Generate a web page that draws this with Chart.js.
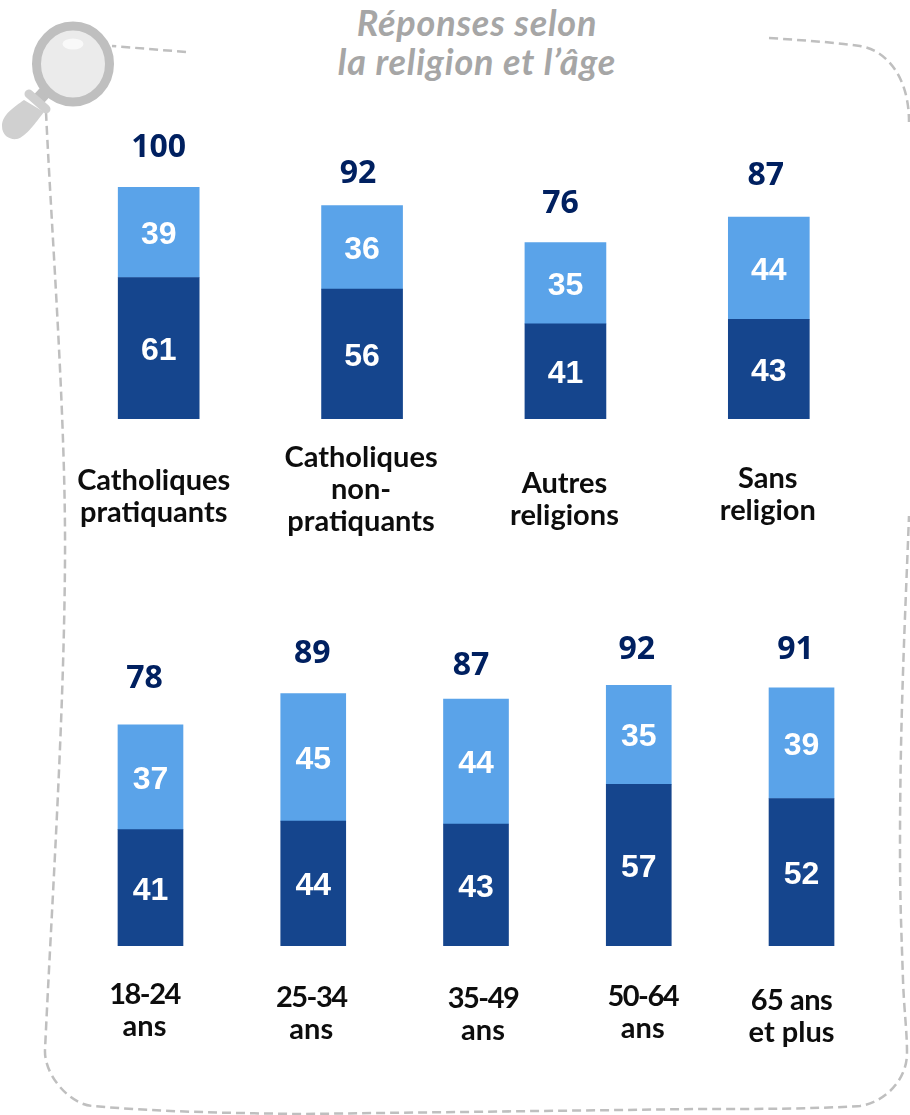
<!DOCTYPE html>
<html lang="fr">
<head>
<meta charset="utf-8">
<title>Réponses selon la religion et l'âge</title>
<script src="https://cdn.jsdelivr.net/npm/chart.js@4"></script>
<style>
body { margin: 0; background: #fff; width: 910px; height: 1115px; overflow: hidden; position: relative; }
canvas, svg { position: absolute; left: 0; }
#titre { position: absolute; left: 0; top: 3px; width: 954px; text-align: center; color: #a6a6a6;
  font: italic bold 36px/39px Lato, sans-serif; letter-spacing: 0.8px; }
</style>
</head>
<body>
<svg width="910" height="1115" style="top:0">
  <g fill="none" stroke="#bfbfbf" stroke-width="2.5" stroke-dasharray="9 5">
    <path d="M186 52 L112 46"/>
    <path d="M46 112 C52 240 66 420 65 560 C64 720 52 900 45 1050 C44 1075 70 1105 93 1106 C160 1112 230 1113 300 1114 L700 1109 C760 1109 810 1109 860 1106 C885 1102 907 1080 907 1053 C907 1030 904 1010 903 980 C901 920 900 900 900 846 C900 720 905 620 909 516"/>
    <path d="M769 38 C800 40 830 42 860 46 C885 50 909 75 909 122"/>
  </g>
  <path d="M47 90 L36 102" stroke="#bfbfbf" stroke-width="13"/>
  <path d="M24 100 C14 107 2 115 2 126 C2 136 10 140 17 139 C26 137 36 122 44 112 Z" fill="#d0d0d0"/>
  <path d="M29 94 L46 109" stroke="#cfcfcf" stroke-width="9" stroke-linecap="round"/>
  <ellipse cx="73" cy="64" rx="36.5" ry="38" fill="#ebebeb" stroke="#bfbfbf" stroke-width="9"/>
  <ellipse cx="73" cy="44" rx="10.5" ry="5.5" fill="#f9f9f9"/>
</svg>
<div id="titre">Réponses selon<br>la religion et l’âge</div>
<canvas id="religion" width="910" height="460" style="top:120px"></canvas>
<canvas id="age" width="910" height="470" style="top:620px"></canvas>
<script>
const religionLabels = [['Catholiques', 'pratiquants'], ['Catholiques', 'non-', 'pratiquants'], ['Autres', 'religions'], ['Sans', 'religion']]
const religionFonce = [61, 56, 41, 43]
const religionClair = [39, 36, 35, 44]
const religionTotal = [100, 92, 76, 87]

const ageLabels = [['18-24', 'ans'], ['25-34', 'ans'], ['35-49', 'ans'], ['50-64', 'ans'], ['65 ans', 'et plus']]
const ageFonce = [41, 44, 43, 57, 52]
const ageClair = [37, 45, 44, 35, 39]
const ageTotal = [78, 89, 87, 92, 91]

// petits decalages du texte, comme dans l'original
const religionPlace = {
    totalX: [0, -4, -5, -3], totalY: [39, 32, 39, 41],
    labelX: [-5, -1, -1, -1], labelY: [62, 39, 65, 60]
}
const agePlace = {
    totalX: [-6, -1, -5, -2, -6], totalY: [46, 40, 33, 35, 38],
    labelX: [-6, -2, 7, 4, -10], labelY: [49, 52, 53, 51, 55]
}

const textes = (place, totaux, labels) => ({
    id: 'textes',
    afterDatasetsDraw(chart) {
        const ctx = chart.ctx
        const fonce = chart.getDatasetMeta(0).data
        const clair = chart.getDatasetMeta(1).data
        ctx.save()
        ctx.textAlign = 'center'
        ctx.textBaseline = 'middle'
        fonce.forEach((barre, i) => {
            ctx.font = 'bold 32px "Liberation Sans"'
            ctx.fillStyle = '#ffffff'
            ctx.fillText(chart.data.datasets[0].data[i], barre.x, (barre.y + barre.base) / 2 + 3)
            ctx.fillText(chart.data.datasets[1].data[i], clair[i].x, (clair[i].y + clair[i].base) / 2 + 3)

            ctx.font = 'bold 32px "Open Sans"'
            ctx.fillStyle = '#002060'
            ctx.fillText(totaux[i], barre.x + place.totalX[i], clair[i].y - place.totalY[i])

            ctx.font = 'bold 29px Lato'
            ctx.fillStyle = '#0d0d0d'
            labels[i].forEach((ligne, n) => {
                // les tranches d'age sont plus serrees
                ctx.letterSpacing = /^\d+-/.test(ligne) ? '-1.5px' : (/^\d/.test(ligne) ? '-0.5px' : '0px')
                ctx.fillText(ligne, barre.x + place.labelX[i], barre.base + place.labelY[i] + n * 32)
            })
            ctx.letterSpacing = '0px'
        })
        ctx.restore()
    }
})

const dessiner = (id, labels, fonce, clair, totaux, place, epaisseur, maxi, padding) => {
    return new Chart(document.getElementById(id), {
        type: 'bar',
        data: {
            labels: labels,
            datasets: [
                { data: fonce, backgroundColor: '#15458d', barThickness: epaisseur, borderWidth: 0 },
                { data: clair, backgroundColor: '#5aa3e9', barThickness: epaisseur, borderWidth: 0 }
            ]
        },
        options: {
            responsive: false,
            animation: false,
            devicePixelRatio: 1,
            layout: { padding: padding },
            plugins: { legend: { display: false }, tooltip: { enabled: false } },
            scales: {
                x: { stacked: true, display: false },
                y: { stacked: true, display: false, min: 0, max: maxi }
            }
        },
        plugins: [textes(place, totaux, labels)]
    })
}

dessiner('religion', religionLabels, religionFonce, religionClair, religionTotal, religionPlace, 81, 100,
    { left: 57, right: 39.5, top: 67, bottom: 161 })
dessiner('age', ageLabels, ageFonce, ageClair, ageTotal, agePlace, 65, 92,
    { left: 69.1, right: 27.1, top: 65, bottom: 144 })
</script>
</body>
</html>
